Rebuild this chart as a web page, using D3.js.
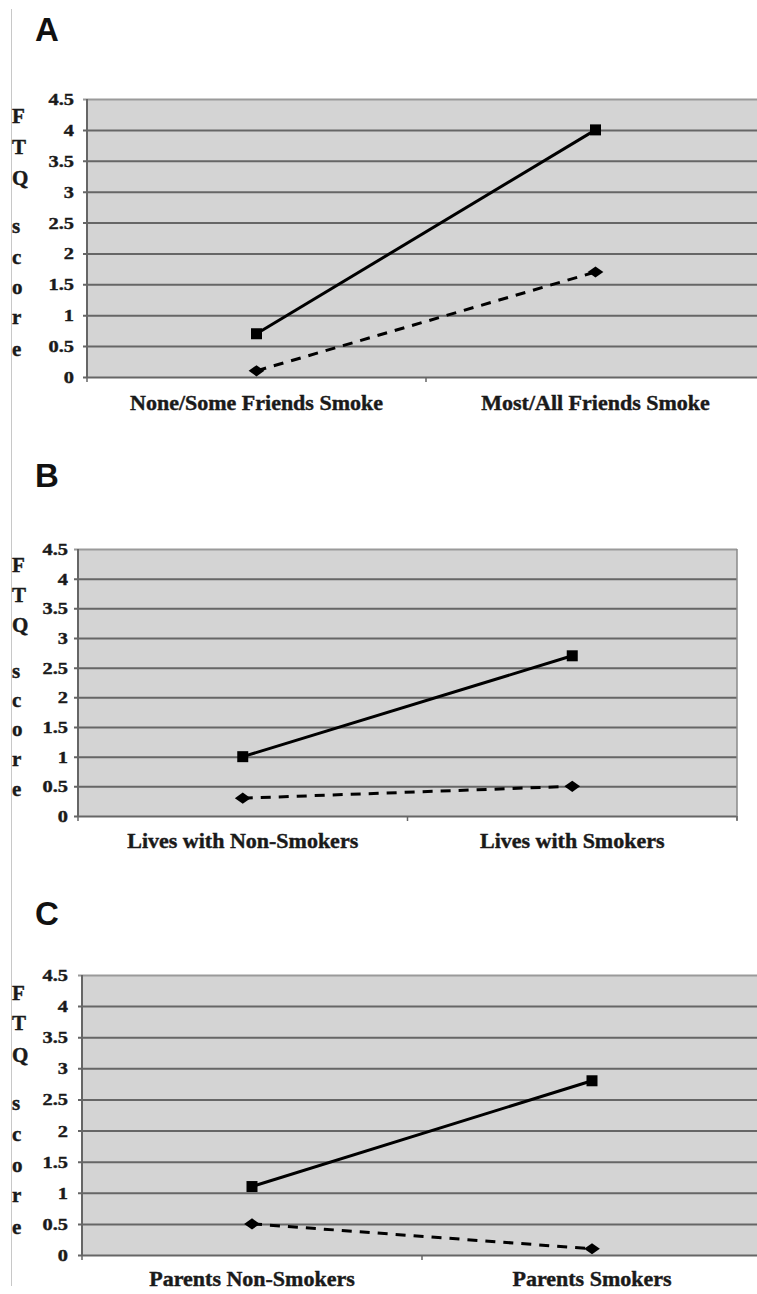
<!DOCTYPE html>
<html>
<head>
<meta charset="utf-8">
<script src="https://cdn.jsdelivr.net/npm/d3@7"></script>
<style>
  html, body { margin: 0; padding: 0; background: #fff; }
  svg { display: block; }
</style>
</head>
<body>
<svg id="chart" width="757" height="1294"></svg>
<script>
// ---- Data ----
const panelLetters = ["A", "B", "C"];
const categoriesA = ["None/Some Friends Smoke", "Most/All Friends Smoke"];
const categoriesB = ["Lives with Non-Smokers", "Lives with Smokers"];
const categoriesC = ["Parents Non-Smokers", "Parents Smokers"];
const solidA = [0.7, 4.0];
const dashedA = [0.1, 1.7];
const solidB = [1.0, 2.7];
const dashedB = [0.3, 0.5];
const solidC = [1.1, 2.8];
const dashedC = [0.5, 0.1];
const yTickValues = [0, 0.5, 1, 1.5, 2, 2.5, 3, 3.5, 4, 4.5];
const yTickLabels = ["0", "0.5", "1", "1.5", "2", "2.5", "3", "3.5", "4", "4.5"];
const yAxisLetters = ["F", "T", "Q", "s", "c", "o", "r", "e"];

const panelData = [
  { letter: panelLetters[0], cats: categoriesA, solid: solidA, dashed: dashedA },
  { letter: panelLetters[1], cats: categoriesB, solid: solidB, dashed: dashedB },
  { letter: panelLetters[2], cats: categoriesC, solid: solidC, dashed: dashedC }
];

// ---- Layout (styles / positions) ----
const layouts = [
  { left: 87, right: 765, top: 99, bottom: 377, tickRight: 74, catY: 410, letterY: 41, frameRight: false },
  { left: 78, right: 737, top: 549, bottom: 816, tickRight: 68, catY: 848, letterY: 487, frameRight: true },
  { left: 82, right: 762, top: 975, bottom: 1255, tickRight: 68, catY: 1286, letterY: 925, frameRight: false }
];
const letterFrac = [0.088, 0.198, 0.31, 0.482, 0.593, 0.702, 0.811, 0.925];
const serif = "'Liberation Serif', 'Times New Roman', serif";
const sans = "'Liberation Sans', Arial, sans-serif";

const svg = d3.select("#chart");

// thin page border on the left
svg.append("line")
  .attr("x1", 11.5).attr("x2", 11.5).attr("y1", 9).attr("y2", 1286)
  .attr("stroke", "#c8c8c8").attr("stroke-width", 1);

panelData.forEach((p, i) => {
  const L = layouts[i];
  const g = svg.append("g");

  const x = d3.scaleBand().domain(p.cats).range([L.left, L.right]).padding(0);
  const y = d3.scaleLinear().domain([0, 4.5]).range([L.bottom, L.top]);

  // panel letter
  g.append("text")
    .attr("x", 35).attr("y", L.letterY)
    .attr("font-family", sans).attr("font-weight", "bold")
    .attr("font-size", 33).attr("fill", "#111")
    .text(p.letter);

  // plot background
  g.append("rect")
    .attr("x", L.left).attr("y", L.top)
    .attr("width", L.right - L.left).attr("height", L.bottom - L.top)
    .attr("fill", "#d4d4d4");

  // gridlines + left ticks
  const yAxis = d3.axisLeft(y).tickValues(yTickValues)
    .tickSize(-(L.right - L.left)).tickFormat("");
  const ga = g.append("g").attr("transform", `translate(${L.left},0)`).call(yAxis);
  ga.select(".domain").remove();
  ga.selectAll(".tick line")
    .attr("x1", -4)
    .attr("stroke", (d) => d === 4.5 ? "#9a9a9a" : "#666")
    .attr("stroke-width", (d) => d === 0 ? 2.2 : 2);

  // left axis line
  g.append("line")
    .attr("x1", L.left).attr("x2", L.left).attr("y1", L.top).attr("y2", L.bottom)
    .attr("stroke", "#666").attr("stroke-width", 2);
  if (L.frameRight) {
    g.append("line")
      .attr("x1", L.right).attr("x2", L.right).attr("y1", L.top).attr("y2", L.bottom + 4)
      .attr("stroke", "#8a8a8a").attr("stroke-width", 1.5);
  }

  // x boundary ticks
  const bounds = [x.range()[0], x(p.cats[1]), x.range()[1]];
  g.selectAll(".xt").data(bounds).enter().append("line")
    .attr("x1", (d) => d).attr("x2", (d) => d)
    .attr("y1", L.bottom).attr("y2", L.bottom + 5)
    .attr("stroke", "#666").attr("stroke-width", 1.5);

  // y tick labels
  g.selectAll(".yl").data(yTickValues).enter().append("text")
    .attr("transform", (d) => `translate(${L.tickRight},${y(d) + 6}) scale(1.2,1)`)
    .attr("text-anchor", "end")
    .attr("font-family", serif).attr("font-weight", "bold")
    .attr("font-size", 17).attr("fill", "#1a1a1a")
    .attr("stroke", "#1a1a1a").attr("stroke-width", 0.4)
    .text((d, j) => yTickLabels[j]);

  // y axis letters stacked
  g.selectAll(".al").data(yAxisLetters).enter().append("text")
    .attr("x", 12)
    .attr("y", (d, j) => L.top + letterFrac[j] * (L.bottom - L.top))
    .attr("font-family", serif).attr("font-weight", "bold")
    .attr("font-size", 21).attr("fill", "#1a1a1a")
    .attr("stroke", "#1a1a1a").attr("stroke-width", 0.4)
    .text((d) => d);

  // category labels
  g.selectAll(".cl").data(p.cats).enter().append("text")
    .attr("transform", (d) => `translate(${x(d) + x.bandwidth() / 2},${L.catY}) scale(1.1,1)`)
    .attr("text-anchor", "middle")
    .attr("font-family", serif).attr("font-weight", "bold")
    .attr("font-size", 20).attr("fill", "#1a1a1a")
    .attr("stroke", "#1a1a1a").attr("stroke-width", 0.4)
    .text((d) => d);

  const cx = (d, j) => x(p.cats[j]) + x.bandwidth() / 2;
  const line = d3.line().x((d, j) => cx(d, j)).y((d) => y(d));

  // dashed series
  g.append("path").datum(p.dashed)
    .attr("d", line).attr("fill", "none")
    .attr("stroke", "#000").attr("stroke-width", 3)
    .attr("stroke-dasharray", "10,8");
  g.selectAll(".dm").data(p.dashed).enter().append("path")
    .attr("d", d3.symbol().type(d3.symbolDiamond2).size(110))
    .attr("transform", (d, j) => `translate(${cx(d, j)},${y(d)}) scale(1.2,0.85)`)
    .attr("fill", "#000");

  // solid series
  g.append("path").datum(p.solid)
    .attr("d", line).attr("fill", "none")
    .attr("stroke", "#000").attr("stroke-width", 3);
  g.selectAll(".sq").data(p.solid).enter().append("rect")
    .attr("x", (d, j) => cx(d, j) - 5.5).attr("y", (d) => y(d) - 5.5)
    .attr("width", 11).attr("height", 11)
    .attr("fill", "#000");
});
</script>
</body>
</html>
